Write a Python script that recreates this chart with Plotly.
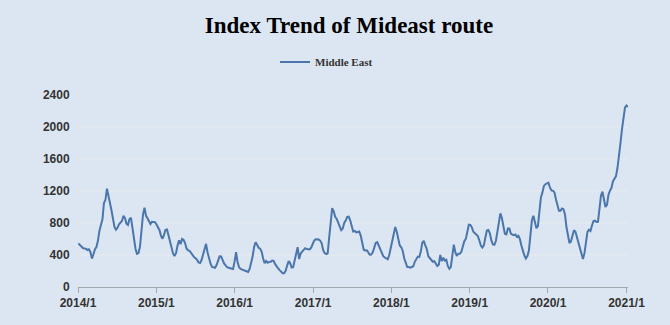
import pandas as pd
import plotly.graph_objects as go

# ---- data (weekly index) ----
series_name = "Middle East"
start_date = "2014-01-03"          # first weekly observation (Friday)
index_values = [
    545, 525, 497, 487, 482, 478, 462, 470, 435, 355,
    410, 472, 500, 580, 705, 780, 847, 1050, 1090, 1230,
    1155, 1050, 960, 850, 750, 717, 740, 785, 808, 825,
    890, 860, 792, 775, 850, 865, 735, 590, 478, 415,
    425, 505, 715, 905, 990, 890, 860, 815, 788, 815,
    808, 811, 782, 746, 710, 640, 604, 650,
    715, 720, 635, 590, 495, 420, 388, 423, 518, 583,
    535, 600, 590, 550, 482, 458, 453, 425, 395, 374,
    360, 340, 306, 300, 337, 410, 500, 540, 432, 350,
    292, 252, 242, 241, 275, 336, 383, 382, 334, 294,
    270, 248, 241, 233, 227, 225, 320, 435, 308, 246,
    226, 217, 215, 207, 199, 188, 225, 303, 380, 500,
    560, 528, 490, 478, 444, 357, 296, 325, 303, 313,
    315, 331, 326, 285, 249, 233, 211, 192, 173, 172,
    203, 268, 324, 299, 243, 248, 333, 450, 498, 350,
    419, 441, 465, 485, 474, 473, 469, 491, 537, 580,
    597, 598, 594, 580, 547, 461, 424, 412, 420, 620,
    850, 985, 946, 877, 850, 794, 757, 710, 730, 800,
    830,
    877, 879, 833, 762, 694, 700, 683, 687, 694, 642,
    543, 466, 457, 458, 435, 403, 405, 433, 491, 552,
    562, 521, 480, 434, 386, 368, 354, 347, 400, 488,
    582, 660, 750, 690, 605, 519, 497, 450, 356, 285,
    250, 249, 242, 250, 260, 315, 354, 380, 374, 440,
    555, 577, 519, 475, 385, 362, 350, 316, 323, 297,
    262,
    278, 400, 325, 366, 330, 340, 263, 228, 250, 383,
    530, 435, 388, 415, 415, 441, 512, 573, 602, 709,
    779, 777, 746, 690, 670, 660, 636, 582, 517, 492,
    520, 617, 707, 713, 671, 582, 531, 526, 575, 690,
    803, 920, 862, 756, 664, 657, 730, 730, 668, 655,
    647, 657, 628, 641, 600, 519, 442, 393, 357, 386,
    455, 660, 834, 890, 806, 735, 760, 930, 1120, 1180,
    1263, 1285, 1296, 1305, 1244, 1207, 1204, 1183, 1098, 1010,
    954, 953, 980, 971, 910, 750, 618, 550, 570, 626,
    710, 690, 625, 568, 496, 412, 350, 420, 585, 690,
    716, 700, 769, 823, 829, 813, 814, 950, 1142, 1191,
    1078, 1000, 1027, 1153, 1204, 1238, 1323, 1355, 1385, 1490,
    1695, 1800, 1975, 2150, 2245, 2269, 2250,
]
x_tick_dates = ["2014-01-01", "2015-01-01", "2016-01-01", "2017-01-01",
                "2018-01-01", "2019-01-01", "2020-01-01", "2021-01-01"]
x_tick_labels = ["2014/1", "2015/1", "2016/1", "2017/1",
                 "2018/1", "2019/1", "2020/1", "2021/1"]
y_tick_values = [0, 400, 800, 1200, 1600, 2000, 2400]
y_grid_values = [400, 800, 1200, 1600, 2000]
title_text = "Index Trend of Mideast route"

dates = pd.date_range(start_date, periods=len(index_values), freq="7D")

BG = "#dce6f2"
LINE = "#4a76ab"
GRID = "#e7eaee"
AXIS = "#a3a8ae"
TXT = "#333333"

fig = go.Figure()
fig.add_trace(go.Scatter(
    x=dates, y=index_values, mode="lines", name=series_name,
    line=dict(color=LINE, width=2), showlegend=True,
))

for v in y_grid_values:
    fig.add_hline(y=v, line=dict(color=GRID, width=1), layer="below")

fig.update_layout(
    width=670, height=325,
    margin=dict(l=78, r=42, t=95, b=38),
    paper_bgcolor=BG, plot_bgcolor=BG,
    title=dict(text=title_text, x=349 / 670, xref="container", xanchor="center",
               y=1 - 25 / 325, yref="container", yanchor="middle",
               font=dict(family="Liberation Serif", size=23, color="#000000", weight="bold")),
    legend=dict(orientation="h", x=275 / 670, xref="container", xanchor="left",
                y=1 - 62 / 325, yref="container", yanchor="middle",
                bgcolor="rgba(0,0,0,0)", itemwidth=30,
                font=dict(family="Liberation Serif", size=11, color=TXT, weight="bold")),
    xaxis=dict(type="date", range=["2014-01-01", "2021-01-08"],
               tickvals=x_tick_dates, ticktext=x_tick_labels,
               showline=True, linecolor=AXIS, linewidth=1,
               ticks="outside", ticklen=5, tickcolor=AXIS,
               showgrid=False, zeroline=False,
               tickfont=dict(family="Liberation Sans", size=12, color=TXT, weight="bold")),
    yaxis=dict(range=[0, 2400], tickvals=y_tick_values,
               showline=False, showgrid=False, zeroline=False,
               ticks="outside", ticklen=5, tickcolor="rgba(0,0,0,0)",
               tickfont=dict(family="Liberation Sans", size=12, color=TXT, weight="bold")),
)

fig.write_html("out.html")
